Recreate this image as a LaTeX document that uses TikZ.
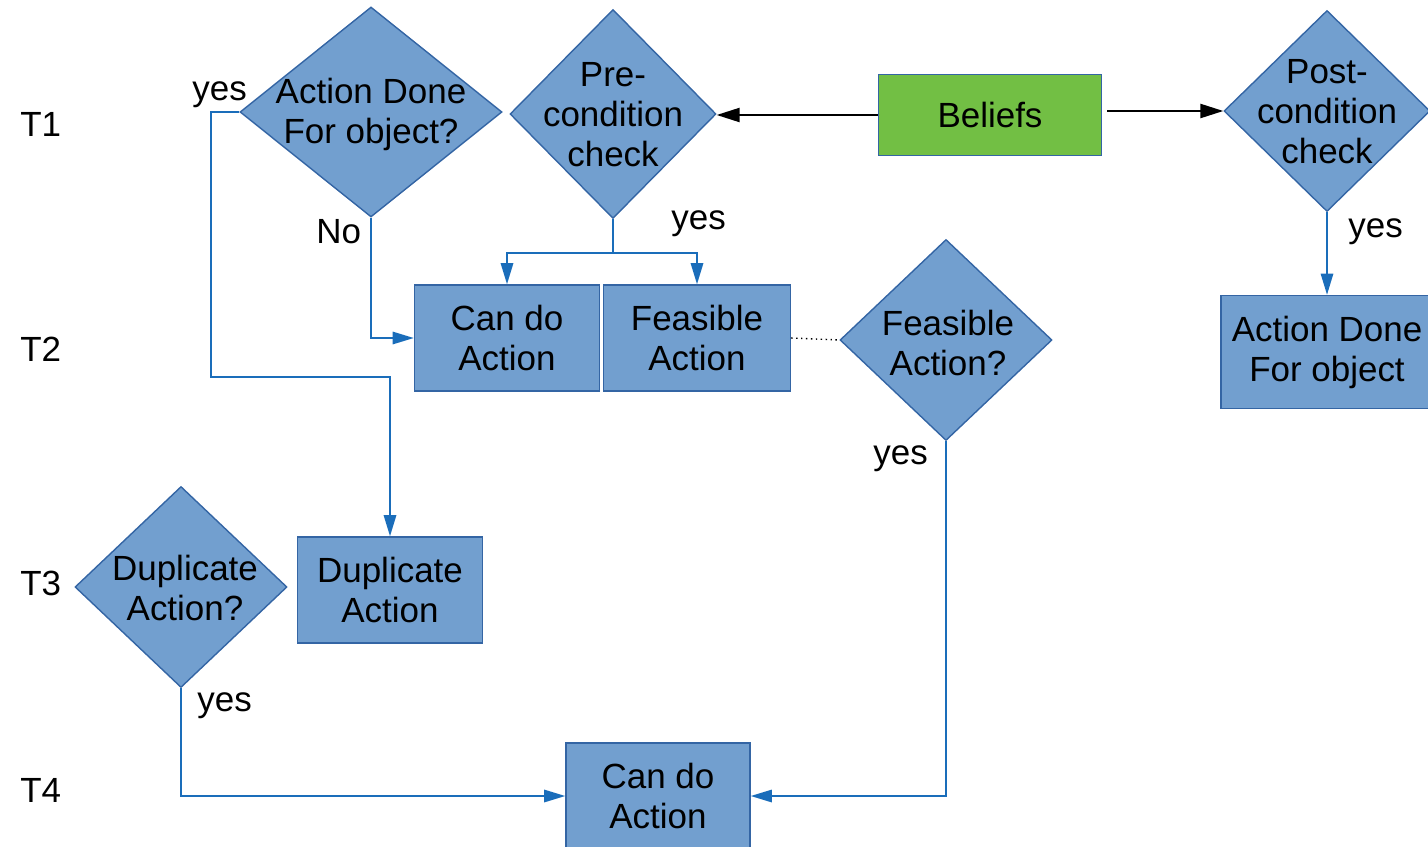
\documentclass[tikz,border=0pt]{standalone}
\usepackage{fontspec}
\setmainfont{Liberation Sans}
\usetikzlibrary{shapes.geometric,arrows.meta,calc}
\definecolor{boxblue}{HTML}{729FCF}
\definecolor{edgeblue}{HTML}{3465A4}
\definecolor{flowblue}{HTML}{1A6DBA}
\definecolor{beliefgreen}{HTML}{72BF44}

\begin{document}
\begin{tikzpicture}[x=0.2mm, y=-0.2mm,
  every node/.style={font=\fontsize{19.9pt}{22.8pt}\selectfont},
  box/.style={draw=edgeblue, fill=boxblue, line width=0.8pt, rectangle, align=center, inner sep=0pt},
  decision/.style={draw=edgeblue, fill=boxblue, line width=0.8pt, diamond, inner sep=0pt},
  txt/.style={align=center, inner sep=0pt},
  tag/.style={anchor=base west, inner sep=0pt},
  flow/.style={draw=flowblue, line width=1.1pt, -{Triangle[width=7pt,length=12pt]}},
  link/.style={draw=flowblue, line width=1.1pt},
  push/.style={draw=black, line width=1.1pt, -{Triangle[width=8pt,length=13pt]}}]
\useasboundingbox (0,0) rectangle (1428,847);
\clip (0,0) rectangle (1428,847);

% Time steps
\node[tag] (t1) at (20,136) {T1};
\node[tag] (t2) at (20,361) {T2};
\node[tag] (t3) at (20,595) {T3};
\node[tag] (t4) at (20,802) {T4};

% T1 row
\node[decision, minimum width=5.24cm, minimum height=4.2cm] (adq) at (371,112) {};
\node[txt] (adq-t) at ($(adq)+(0,2)$) {Action Done\\For object?};
\node[decision, minimum width=4.12cm, minimum height=4.18cm] (pre) at (613,114) {};
\node[txt] (pre-t) at ($(pre)+(0,1)$) {Pre-\\condition\\check};
\node[box, fill=beliefgreen, minimum width=4.46cm, minimum height=1.62cm] (bel) at (990,115) {Beliefs};
\node[decision, minimum width=4.12cm, minimum height=4.02cm] (post) at (1327,111) {};
\node[txt] (post-t) at ($(post)+(0,1)$) {Post-\\condition\\check};

% T2 row
\node[box, minimum width=3.7cm, minimum height=2.12cm] (can1) at (507,338) {Can do\\Action};
\node[box, minimum width=3.74cm, minimum height=2.12cm] (feas) at (697,338) {Feasible\\Action};
\node[decision, minimum width=4.24cm, minimum height=4.02cm] (fq) at (946,340) {};
\node[txt] (fq-t) at ($(fq)+(2,3)$) {Feasible\\Action?};
\node[box, minimum width=4.24cm, minimum height=2.26cm] (done) at (1327,352) {Action Done\\For object};

% T3 row
\node[decision, minimum width=4.24cm, minimum height=4.02cm] (dq) at (181,587) {};
\node[txt] (dq-t) at ($(dq)+(4,1)$) {Duplicate\\Action?};
\node[box, minimum width=3.7cm, minimum height=2.12cm] (dup) at (390,590) {Duplicate\\Action};

% T4 row
\node[box, minimum width=3.68cm, minimum height=2.12cm] (can2) at (658,796) {Can do\\Action};

% Beliefs feed both checks
\draw[push] (bel.west) -- (pre.east |- bel.west);
\draw[push, shorten <=3pt] (bel.east |- post.west) -- (post.west);

% Branches
\draw[flow] (adq.west) -- ++(-28,0) -- ++(0,265) -| (dup.north);
\draw[flow] (adq.south) |- (can1.west);
\draw[link] (pre.south) -- ++(0,34) coordinate (split);
\draw[flow] (split) -| (can1.north);
\draw[flow] (split) -| (feas.north);
\draw[dotted, line width=0.8pt] (feas.east) -- (fq.west);
\draw[flow] (post.south) -- (done.north);
\draw[flow] (fq.south) |- (can2.east);
\draw[flow] (dq.south) |- (can2.west);

% Branch labels
\node[tag] (y1) at (192,100) {yes};
\node[tag] (n1) at (316,243) {No};
\node[tag] (y2) at (671,229) {yes};
\node[tag] (y3) at (1348,237) {yes};
\node[tag] (y4) at (873,464) {yes};
\node[tag] (y5) at (197,711) {yes};
\end{tikzpicture}
\end{document}
